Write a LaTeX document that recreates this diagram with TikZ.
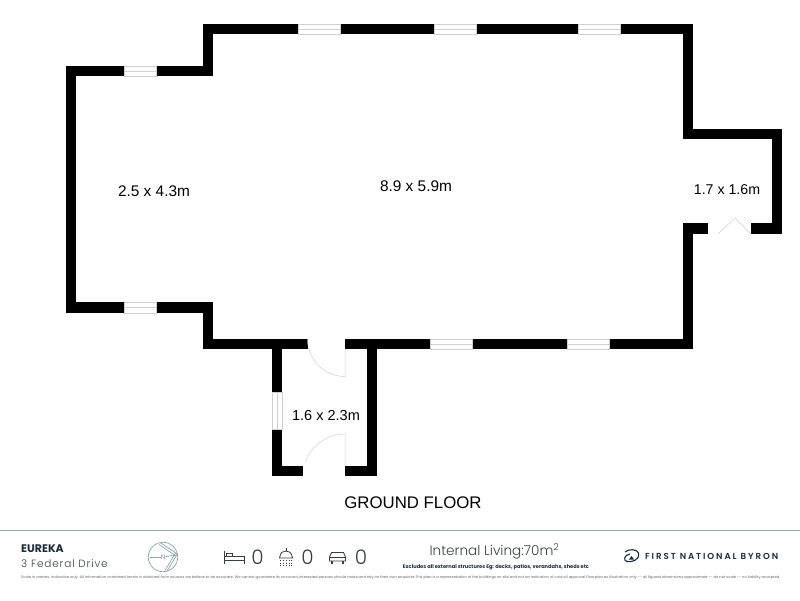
\documentclass[tikz,border=0pt]{standalone}
\usepackage{fontspec}
\setmainfont{Liberation Sans}
\newfontfamily\footfont{Poppins}
\newfontfamily\lightfont{Poppins Light}
\newfontfamily\spacedfont[LetterSpace=8]{Poppins Light}
\newfontfamily\brandfont[LetterSpace=22]{Poppins SemiBold}
\usepackage{xcolor}
\usetikzlibrary{calc, positioning}

\definecolor{rule}{HTML}{8FA5AB}
\definecolor{navy}{HTML}{1D2B3A}
\definecolor{glassline}{HTML}{CFCFCF}
\definecolor{iconline}{HTML}{3A3F44}

\tikzset{
  wall/.style={line width=10.4pt, line join=miter, black},
  glass/.style={draw=glassline, fill=white, line width=0.6pt},
  swing/.style={draw=glassline, line width=0.5pt},
  roomlabel/.style={inner sep=0pt, font=\fontsize{15.4}{16}\selectfont},
  icon/.style={draw=iconline, line width=0.85pt},
  count/.style={inner sep=0pt, text=iconline, font=\lightfont\fontsize{20}{20}\selectfont},
  compass/.style={draw=rule, line width=0.7pt}
}

\begin{document}
\begin{tikzpicture}[x=1pt, y=-1pt]
\useasboundingbox (0,0) rectangle (800,600);

%//walls of the main rooms
\draw [wall] (308,344) -- (208,344) -- (208,307.5) -- (71,307.5) -- (71,71) -- (208,71) -- (208,29) -- (688,29) -- (688,134) -- (777,134) -- (777,228.5) -- (751,228.5);
\draw [wall] (708,228.5) -- (688,228.5) -- (688,344) -- (345,344);

%//walls of the porch
\draw [wall] (277,344) -- (277,471) -- (303,471);
\draw [wall] (345,471) -- (372,471) -- (372,344);

%//windows
\foreach \xa/\ya/\xb/\yb in {124/66/156/76, 298/24/340/34, 434/24/476/34, 578/24/620/34, 124/302/156/313, 430/339/472/349, 567/339/609/349}
{
\draw [glass] (\xa,\ya) rectangle (\xb,\yb);
\draw [swing] (\xa,{(\ya+\yb)/2}) -- (\xb,{(\ya+\yb)/2});
}
\draw [glass] (272,392) rectangle (282,429);
\draw [swing] (277,392) -- (277,429);

%//doors
\draw [swing] (345,349) -- (345,376.5) arc (90:180:37.5);
\draw [swing] (345,466) -- (345,434) arc (-90:-160:42);
\draw [swing] (718,234) -- (735,218) -- (751,234);

\node [roomlabel] (living) at (416,186) {8.9 x 5.9m};
\node [roomlabel] (west) at (154,191) {2.5 x 4.3m};
\node [roomlabel, font=\fontsize{14.2}{16}\selectfont] (east) at (727,190) {1.7 x 1.6m};
\node [roomlabel, font=\fontsize{14.5}{16}\selectfont] (porch) at (326,416) {1.6 x 2.3m};
\node [inner sep=0pt, font=\fontsize{16.8}{17}\selectfont] (floor) at (413,503) {GROUND FLOOR};

%//footer
\draw [rule, line width=0.8pt] (0,530.5) -- (800,530.5);

\node [inner sep=0pt, anchor=west, text=navy, font=\footfont\bfseries\fontsize{11}{11}\selectfont] (name) at (21,548.5) {EUREKA};
\node [inner sep=0pt, anchor=west, text=iconline, font=\spacedfont\fontsize{10.5}{11}\selectfont] (street) at (21,563.5) {3 Federal Drive};

%//north sign
\draw [compass] (163,557) circle (14.7);
\node [inner sep=0pt, text=rule!70!black, font=\lightfont\fontsize{6.5}{7}\selectfont] (north) at (163,557) {N};
\draw [compass] (150,557) -- (north);
\draw [compass] (north) -- (177,555);
\draw [compass] (160,542.5) -- (177.5,554);
\draw [compass] (159,544.5) -- (176,556);
\draw [compass] (177.5,554) -- (167,571);
\draw [compass] (175.5,553) -- (165,570.5);

%//bed
\draw [icon] (224,550.5) -- (224,563.5);
\draw [icon] (224,560) -- (244,560) -- (244,563.5);
\draw [icon] (224,556.5) -- (244,556.5) -- (244,560);
\draw [icon] (226,556.5) -- (226,553.5) -- (232,553.5) -- (232,556.5);
\node [count] (beds) at (257.5,557) {0};

%//shower
\draw [icon] (286,548) -- (286,551);
\draw [icon] (279.5,558) .. controls (280.5,552) and (283,551) .. (286,551) .. controls (289,551) and (291.5,552) .. (292.5,558) -- cycle;
\foreach \y in {560.5,563,565.5}
\draw [icon, dotted, line width=0.9pt] (280,\y) -- (293,\y);
\node [count] (showers) at (307.5,557) {0};

%//car
\draw [icon] (329.5,557) -- (331.5,552.5) -- (343.5,552.5) -- (345.5,557) -- (345.5,561) -- (329.5,561) -- cycle;
\draw [icon] (329,557) -- (346,557);
\draw [icon, line width=1.5pt] (332,561) -- (332,563.5);
\draw [icon, line width=1.5pt] (343,561) -- (343,563.5);
\node [count] (cars) at (361,557) {0};

\node [inner sep=0pt, text=iconline, font=\lightfont\fontsize{13.6}{14}\selectfont] (internal) at (494.5,551.5) {Internal Living:70m\textsuperscript{2}};
\node [inner sep=0pt, text=navy, font=\footfont\bfseries\fontsize{5.1}{6}\selectfont] (excludes) at (496,567) {Excludes all external structures Eg: decks, patios, verandahs, sheds etc};

%//logo
\draw [navy, line width=1.1pt] (625,552) .. controls (629,548.5) and (637,549) .. (638.5,553) .. controls (640,560) and (632,562.5) .. (627,561.5) .. controls (623,560.5) and (624,555) .. (630,554);
\fill [navy] (629,559.5) -- (631.5,556) -- (634,559.5) -- cycle;
\node [inner sep=0pt, anchor=west, text=navy, font=\brandfont\fontsize{8.7}{9}\selectfont] (brand) at (645,556) {FIRST NATIONAL BYRON};

\node [inner sep=0pt, anchor=west, text=iconline!80, font=\footfont\fontsize{3.65}{4}\selectfont] (terms) at (21,578) {Scale in metres. Indicative only. All information contained herein is obtained from sources we believe to be accurate. We cannot guarantee its accuracy.Interested persons should make and rely on their own enquiries.This plan is a representation of the buildings on site and not an indication of council approval.Floorplan as illustration only -- all figured dimensions approximate -- do not scale -- no liability accepted};
\end{tikzpicture}
\end{document}
